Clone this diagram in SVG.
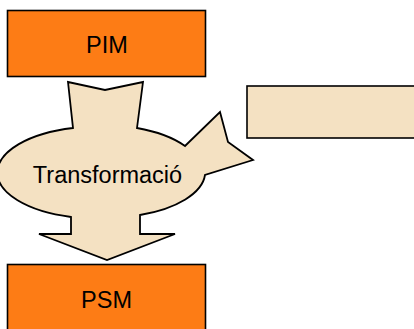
<svg xmlns="http://www.w3.org/2000/svg" width="414" height="329" viewBox="0 0 414 329">
<style>
.box{fill:#FD7C15;stroke:#000;stroke-width:1.6}
.note{fill:#F4E1C2;stroke:#000;stroke-width:1.6}
.shape{fill:#F4E1C2;stroke:#000;stroke-width:1.8;stroke-linejoin:miter}
.lbl{font-family:"Liberation Sans",Arial,sans-serif;font-size:23.5px;fill:#000;text-anchor:middle}
</style>
<rect width="414" height="329" fill="#fff"/>
<g id="pim">
<rect class="box" x="7.5" y="10.5" width="198" height="66"/>
<text class="lbl" x="107" y="53">PIM</text>
</g>
<g id="note">
<rect class="note" x="247" y="86" width="175" height="52"/>
</g>
<g id="transformacio">
<path class="shape" d="M 68 82 L 105 90 L 143 82 L 137 128 A 100 46 0 0 1 185 146 L 220 112 L 228 142 L 253 160 L 205 175 A 100 46 0 0 1 140 215 L 140 234 L 175 234 L 107 260 L 39 234 L 71 234 L 71 217 A 100 46 0 0 1 73 128 Z"/>
<text class="lbl" x="107.5" y="183">Transformació</text>
</g>
<g id="psm">
<rect class="box" x="7.5" y="264.5" width="198" height="72"/>
<text class="lbl" x="106.5" y="308">PSM</text>
</g>
<g id="connectors"></g>
</svg>
